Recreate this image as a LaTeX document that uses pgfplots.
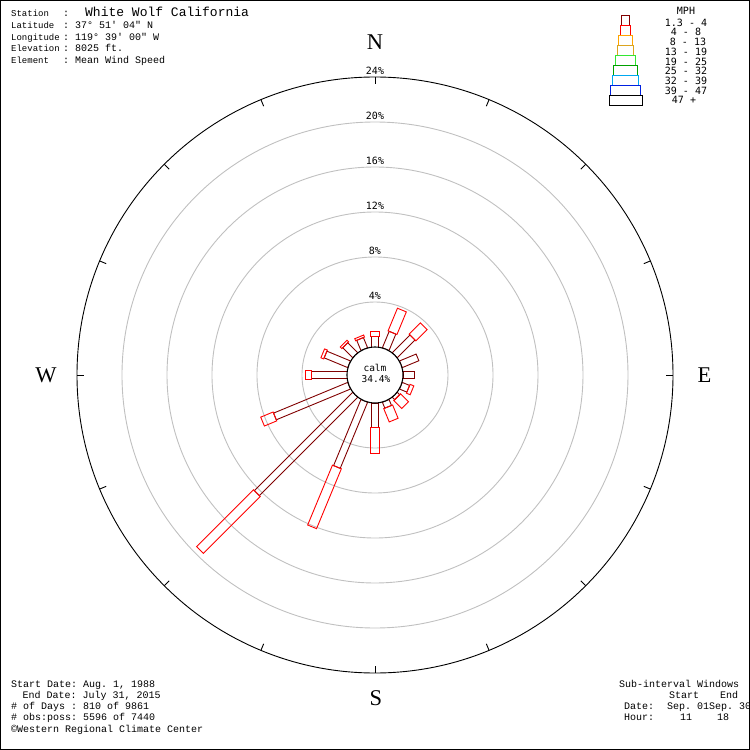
\documentclass[border=0pt]{standalone}
\usepackage{fontspec}
\setmainfont{Liberation Mono}
\setmonofont{Liberation Mono}
\newfontfamily\smono{DejaVu Sans Mono}
\newfontfamily\serf{Liberation Serif}
\usepackage{pgfplots}
\usepackage{pgfplotstable}
\pgfplotsset{compat=1.18}

\definecolor{bina}{HTML}{800000}
\definecolor{binb}{HTML}{FF0000}
\definecolor{binc}{HTML}{FFA500}
\definecolor{bind}{HTML}{DAA520}
\definecolor{bine}{HTML}{33E633}
\definecolor{binf}{HTML}{00A000}
\definecolor{bing}{HTML}{00A8F0}
\definecolor{binh}{HTML}{0020E0}
\definecolor{ringgray}{HTML}{C0C0C0}

% percent of observations by direction: 1.3-4 mph (b1) and 4-8 mph (b2)
\pgfplotstableread{
dir    b1     b2
0      0.98   0.42
22.5   1.58   2.18
45     2.22   1.42
67.5   1.60   0.00
90     1.00   0.00
112.5  0.71   0.36
135    0.30   1.00
157.5  0.57   1.28
180    2.20   2.28
202.5  6.36   5.76
225    12.36  7.15
247.5  7.14   1.19
270    3.14   0.51
292.5  2.27   0.27
315    1.25   0.20
337.5  0.98   0.20
}\rosedata

\newcommand\rcalm{28}     % calm circle radius
\newcommand\rscale{11.25} % units per percent

% #1 direction, #2 inner radius, #3 outer radius, #4 half width, #5 style
\newcommand\rosebar[5]{%
  \pgfmathsetmacro\su{sin(#1)}%
  \pgfmathsetmacro\cu{cos(#1)}%
  \pgfmathsetmacro\xa{#2*\su+#4*\cu}\pgfmathsetmacro\ya{#2*\cu-#4*\su}%
  \pgfmathsetmacro\xb{#3*\su+#4*\cu}\pgfmathsetmacro\yb{#3*\cu-#4*\su}%
  \pgfmathsetmacro\xc{#3*\su-#4*\cu}\pgfmathsetmacro\yc{#3*\cu+#4*\su}%
  \pgfmathsetmacro\xd{#2*\su-#4*\cu}\pgfmathsetmacro\yd{#2*\cu+#4*\su}%
  \edef\rosetmp{\noexpand\draw[#5] (axis cs:\xa,\ya) -- (axis cs:\xb,\yb) -- (axis cs:\xc,\yc) -- (axis cs:\xd,\yd) -- cycle;}%
  \rosetmp
}

\begin{document}
\begin{tikzpicture}
\useasboundingbox (-375pt,-375pt) rectangle (375pt,375pt);
\begin{axis}[at={(0pt,0pt)}, anchor=center, scale only axis,
  width=750pt, height=750pt,
  xmin=-375, xmax=375, ymin=-375, ymax=375,
  xtick=\empty, ytick=\empty,
  axis line style={line width=2pt, black}, clip=false]

  % rings
  \draw[ringgray, line width=0.9pt] (axis cs:0,0) circle[radius=73pt];
  \draw[ringgray, line width=0.9pt] (axis cs:0,0) circle[radius=118pt];
  \draw[ringgray, line width=0.9pt] (axis cs:0,0) circle[radius=163pt];
  \draw[ringgray, line width=0.9pt] (axis cs:0,0) circle[radius=208pt];
  \draw[ringgray, line width=0.9pt] (axis cs:0,0) circle[radius=253pt];
  \draw[black, line width=0.9pt] (axis cs:0,0) circle[radius=298pt];
  \pgfplotsinvokeforeach{0,...,15}{
    \draw[line width=0.9pt] ([shift={(90-22.5*#1:291pt)}]axis cs:0,0) -- ([shift={(90-22.5*#1:298pt)}]axis cs:0,0);
  }

  % bars
  \pgfplotstablegetrowsof{\rosedata}
  \pgfmathtruncatemacro\lastrow{\pgfplotsretval-1}
  \pgfplotsforeachungrouped \rowi in {0,...,\lastrow}{%
    \pgfplotstablegetelem{\rowi}{dir}\of\rosedata \let\dirv\pgfplotsretval
    \pgfplotstablegetelem{\rowi}{b1}\of\rosedata \let\vala\pgfplotsretval
    \pgfplotstablegetelem{\rowi}{b2}\of\rosedata \let\valb\pgfplotsretval
    \pgfmathsetmacro\radA{\rcalm+\rscale*\vala}%
    \pgfmathsetmacro\radB{\radA+\rscale*\valb}%
    \rosebar{\dirv}{\rcalm}{\radA}{3.6}{bina, line width=0.9pt}%
    \ifdim\valb pt>0pt \rosebar{\dirv}{\radA}{\radB}{4.8}{binb, line width=0.9pt}\fi
  }

  % calm circle
  \draw[black, line width=1.1pt, fill=white] (axis cs:0,0) circle[radius=28pt];

  % ring labels
  \node[anchor=south, inner sep=0pt, font=\smono\fontsize{10}{10}\selectfont] at (axis cs:0,75) {4\%};
  \node[anchor=south, inner sep=0pt, font=\smono\fontsize{10}{10}\selectfont] at (axis cs:0,120) {8\%};
  \node[anchor=south, inner sep=0pt, font=\smono\fontsize{10}{10}\selectfont] at (axis cs:0,165) {12\%};
  \node[anchor=south, inner sep=0pt, font=\smono\fontsize{10}{10}\selectfont] at (axis cs:0,210) {16\%};
  \node[anchor=south, inner sep=0pt, font=\smono\fontsize{10}{10}\selectfont] at (axis cs:0,255) {20\%};
  \node[anchor=south, inner sep=0pt, font=\smono\fontsize{10}{10}\selectfont] at (axis cs:0,300) {24\%};
\end{axis}

% texts in image pixel coordinates
\begin{scope}[x=1pt, y=-1pt, shift={(-375pt,375pt)}]
  \tikzset{lab/.style={anchor=base west, inner sep=0pt, font=\ttfamily\fontsize{9}{9}\selectfont},
           val/.style={anchor=base west, inner sep=0pt, font=\ttfamily\fontsize{10}{10}\selectfont},
           leg/.style={anchor=base, inner sep=0pt, font=\smono\fontsize{10}{10}\selectfont},
           cmp/.style={anchor=base, inner sep=0pt, font=\serf\fontsize{22.5}{22.5}\selectfont}}

  % header
  \node[lab] at (11,16.5) {Station};
  \node[val] at (63,16.5) {:};
  \node[anchor=base west, inner sep=0pt, font=\ttfamily\fontsize{13}{13}\selectfont] at (85,16.5) {White Wolf California};
  \node[lab] at (11,28.3) {Latitude};
  \node[val] at (63,28.3) {: 37° 51' 04" N};
  \node[lab] at (11,40.1) {Longitude};
  \node[val] at (63,40.1) {: 119° 39' 00" W};
  \node[lab] at (11,51.9) {Elevation};
  \node[val] at (63,51.9) {: 8025 ft.};
  \node[lab] at (11,63.7) {Element};
  \node[val] at (63,63.7) {: Mean Wind Speed};

  % compass
  \node[cmp] at (375,50) {N};
  \node[cmp] at (46,382.5) {W};
  \node[cmp] at (704.5,382.5) {E};
  \node[cmp] at (376,705.5) {S};

  % calm
  \node[anchor=base, inner sep=0pt, font=\smono\fontsize{9.5}{9.5}\selectfont] at (375,371.7) {calm};
  \node[anchor=base, inner sep=0pt, font=\smono\fontsize{9.5}{9.5}\selectfont] at (376,382.7) {34.4\%};

  % legend
  \draw[bina, line width=0.9pt] (621,15) rectangle (629,25);
  \draw[binb, line width=0.9pt] (620,25) rectangle (630,35);
  \draw[binc, line width=0.9pt] (618,35) rectangle (632,45);
  \draw[bind, line width=0.9pt] (617,45) rectangle (633,55);
  \draw[bine, line width=0.9pt] (615,55) rectangle (635,65);
  \draw[binf, line width=0.9pt] (613,65) rectangle (637,75);
  \draw[bing, line width=0.9pt] (612,75) rectangle (638,85);
  \draw[binh, line width=0.9pt] (610,85) rectangle (640,95);
  \draw[black, line width=0.9pt] (609,95) rectangle (642,105);
  \node[leg] at (686,14.6) {MPH};
  \node[leg] at (686,26.3) {1.3 - 4};
  \node[leg] at (686,36.0) {4 - 8};
  \node[leg] at (688,45.7) {8 - 13};
  \node[leg] at (686,55.4) {13 - 19};
  \node[leg] at (686,65.1) {19 - 25};
  \node[leg] at (686,74.8) {25 - 32};
  \node[leg] at (686,84.5) {32 - 39};
  \node[leg] at (686,94.2) {39 - 47};
  \node[leg] at (684,103.9) {47 +};

  % footer left
  \node[val] at (11,687.3) {Start Date: Aug. 1, 1988};
  \node[val] at (22.5,698.3) {End Date: July 31, 2015};
  \node[val] at (11,709.3) {\# of Days : 810 of 9861};
  \node[val] at (11,720.3) {\# obs:poss: 5596 of 7440};
  \node[val] at (11,732.5) {©Western Regional Climate Center};

  % footer right
  \node[val] at (619,687.3) {Sub-interval Windows};
  \node[val] at (669,698.3) {Start};
  \node[val] at (720,698.3) {End};
  \node[val] at (624,709.3) {Date:};
  \node[val] at (667,709.3) {Sep. 01Sep. 30};
  \node[val] at (624,720.3) {Hour:};
  \node[val] at (680,720.3) {11};
  \node[val] at (717,720.3) {18};
\end{scope}
\end{tikzpicture}
\end{document}
